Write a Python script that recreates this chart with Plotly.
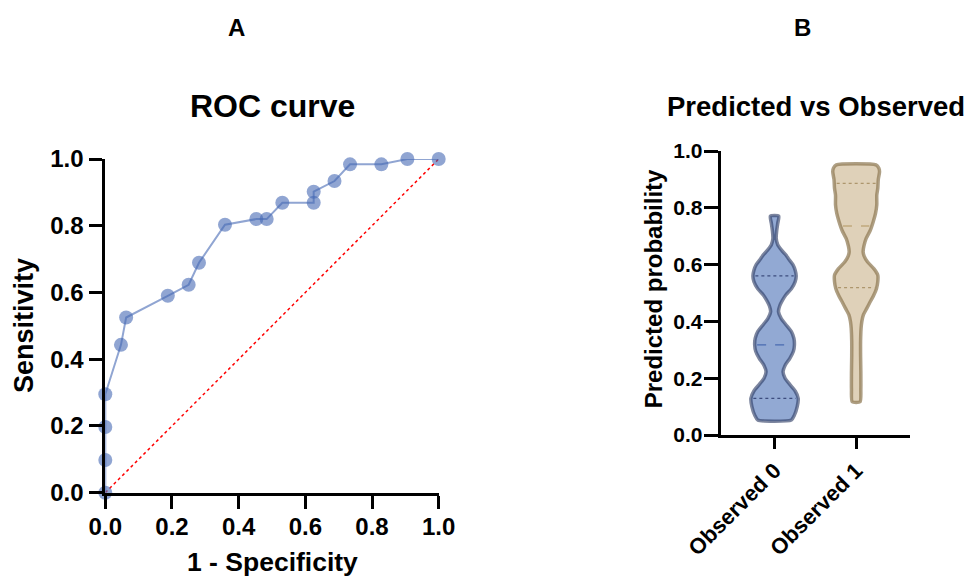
import numpy as np
import plotly.graph_objects as go

# ---------------- Data ----------------
# Panel A: ROC curve (1 - specificity, sensitivity)
roc_fpr = [0.0, 0.0, 0.0, 0.0, 0.047, 0.0625, 0.1875, 0.25, 0.281, 0.359, 0.453,
           0.484, 0.531, 0.625, 0.625, 0.6875, 0.734, 0.828, 0.906, 1.0]
roc_tpr = [0.0, 0.098, 0.197, 0.295, 0.443, 0.525, 0.590, 0.623, 0.689, 0.803, 0.820,
           0.820, 0.869, 0.869, 0.902, 0.934, 0.984, 0.984, 1.0, 1.0]
chance_x = [0.0, 1.0]
chance_y = [0.0, 1.0]
roc_ticks = [0.0, 0.2, 0.4, 0.6, 0.8, 1.0]

# Panel B: violin outlines (predicted probability level, relative density)
groups = ["Observed 0", "Observed 1"]
obs0_level = [0.053, 0.07, 0.10, 0.129, 0.155, 0.18, 0.20, 0.223, 0.245, 0.27, 0.295,
              0.317, 0.34, 0.364, 0.39, 0.41, 0.434, 0.455, 0.475, 0.493, 0.515, 0.54,
              0.56, 0.58, 0.60, 0.62, 0.634, 0.65, 0.67, 0.692, 0.72, 0.745, 0.771]
obs0_density = [0.73, 0.85, 0.96, 1.00, 0.88, 0.65, 0.48, 0.40, 0.48, 0.67, 0.81,
                0.85, 0.83, 0.73, 0.50, 0.33, 0.22, 0.27, 0.38, 0.51, 0.73, 0.88,
                0.92, 0.88, 0.79, 0.62, 0.51, 0.35, 0.19, 0.13, 0.15, 0.19, 0.23]
obs1_level = [0.117, 0.16, 0.22, 0.28, 0.33, 0.376, 0.40, 0.423, 0.445, 0.469, 0.49,
              0.516, 0.54, 0.563, 0.585, 0.61, 0.63, 0.645, 0.665, 0.692, 0.72, 0.751,
              0.78, 0.81, 0.845, 0.869, 0.90, 0.927, 0.94, 0.951]
obs1_density = [0.22, 0.25, 0.25, 0.24, 0.24, 0.26, 0.29, 0.35, 0.48, 0.62, 0.75,
                0.87, 0.92, 0.92, 0.77, 0.51, 0.38, 0.34, 0.37, 0.46, 0.62, 0.74,
                0.83, 0.88, 0.88, 0.92, 0.94, 0.99, 0.96, 0.85]
obs0_quartiles = [0.129, 0.317, 0.560]
obs1_quartiles = [0.519, 0.736, 0.886]
prob_ticks = [0.0, 0.2, 0.4, 0.6, 0.8, 1.0]

# ---------------- Style ----------------
FONT = "Liberation Sans, Arial, Helvetica, sans-serif"
W, H = 968, 577
MAXW = 0.31
ROC_BLUE = "rgba(70,105,180,0.6)"
V_FILL = ["rgba(74,111,181,0.6)", "rgba(196,172,128,0.55)"]
V_LINE = ["rgba(45,60,100,0.62)", "rgba(140,118,80,0.7)"]
Q_COL = ["rgba(45,60,110,0.85)", "rgba(165,140,95,0.85)"]
MED_COL = ["rgba(60,95,170,0.85)", "rgba(190,165,120,0.9)"]


def pxx(x):
    return x / W


def pyy(y):
    return 1 - y / H


fig = go.Figure()

# ROC panel
fig.add_trace(go.Scatter(x=chance_x, y=chance_y, mode="lines",
                         line=dict(color="red", width=1.5, dash="dot"),
                         xaxis="x", yaxis="y", hoverinfo="skip"))
fig.add_trace(go.Scatter(x=roc_fpr, y=roc_tpr, mode="lines+markers",
                         line=dict(color=ROC_BLUE, width=2),
                         marker=dict(size=14, color=ROC_BLUE, line=dict(width=0)),
                         cliponaxis=False, xaxis="x", yaxis="y"))

# Violin panel
profiles = [(obs0_level, obs0_density, obs0_quartiles),
            (obs1_level, obs1_density, obs1_quartiles)]
for i, (lv, dn, qs) in enumerate(profiles):
    lv = np.array(lv)
    half = np.array(dn) * MAXW - 0.02
    xs = np.concatenate([i + half, (i - half)[::-1], [i + half[0]]])
    ys = np.concatenate([lv, lv[::-1], [lv[0]]])
    fig.add_trace(go.Scatter(x=xs, y=ys, mode="lines", fill="toself",
                             fillcolor=V_FILL[i],
                             line=dict(color=V_LINE[i], width=3.5, shape="spline", smoothing=0.6),
                             xaxis="x2", yaxis="y2", hoverinfo="skip"))
    for k, q in enumerate(qs):
        h = np.interp(q, lv, half) - 0.03
        fig.add_trace(go.Scatter(x=[i - h, i + h], y=[q, q], mode="lines",
                                 line=dict(color=MED_COL[i] if k == 1 else Q_COL[i],
                                           width=1.3, dash="dash" if k == 1 else "dot"),
                                 xaxis="x2", yaxis="y2", hoverinfo="skip"))

axis_common = dict(showline=True, linewidth=3, linecolor="black", ticks="outside",
                   tickwidth=3, tickcolor="black", showgrid=False, zeroline=False,
                   automargin=False)

fig.update_layout(
    width=W, height=H, autosize=False,
    margin=dict(l=0, r=0, t=0, b=0, pad=0, autoexpand=False),
    paper_bgcolor="white", plot_bgcolor="white", showlegend=False,
    xaxis=dict(domain=[pxx(105.3), pxx(438.7)], range=[0, 1], anchor="y",
               tickvals=roc_ticks, ticktext=[f"{v:.1f}" for v in roc_ticks],
               ticklen=13, ticklabelstandoff=-3,
               tickfont=dict(family=FONT, size=24, color="black", weight="bold"),
               **axis_common),
    yaxis=dict(domain=[pyy(492.7), pyy(159)], range=[0, 1], anchor="x",
               tickvals=roc_ticks, ticktext=[f"{v:.1f}" for v in roc_ticks],
               ticklen=13, ticklabelstandoff=1,
               tickfont=dict(family=FONT, size=24, color="black", weight="bold"),
               **axis_common),
    xaxis2=dict(domain=[pxx(720.7), pxx(910)], range=[-0.66, 1.66], anchor="y2",
                tickvals=[0, 1], ticktext=groups, tickangle=-45, ticklen=11,
                tickfont=dict(family=FONT, size=22, color="black", weight="bold"),
                **axis_common),
    yaxis2=dict(domain=[pyy(435), pyy(151)], range=[0, 1], anchor="x2",
                tickvals=prob_ticks, ticktext=[f"{v:.1f}" for v in prob_ticks],
                ticklen=14, ticklabelstandoff=-3,
                tickfont=dict(family=FONT, size=21, color="black", weight="bold"),
                **axis_common),
)

def ann(text, x, y, size, angle=0):
    fig.add_annotation(text=text, x=pxx(x), y=pyy(y), xref="paper", yref="paper",
                       xanchor="center", yanchor="middle", showarrow=False,
                       textangle=angle,
                       font=dict(family=FONT, size=size, color="black", weight="bold"))

ann("A", 236, 27, 24)
ann("B", 802, 27, 24)
ann("ROC curve", 272.5, 106, 32)
ann("Predicted vs Observed", 815.8, 106, 27.5)
ann("1 - Specificity", 272.8, 562, 26.5)
ann("Sensitivity", 24, 326, 27, -90)
ann("Predicted probability", 653.3, 289, 24, -90)

fig.write_html("out.html")
